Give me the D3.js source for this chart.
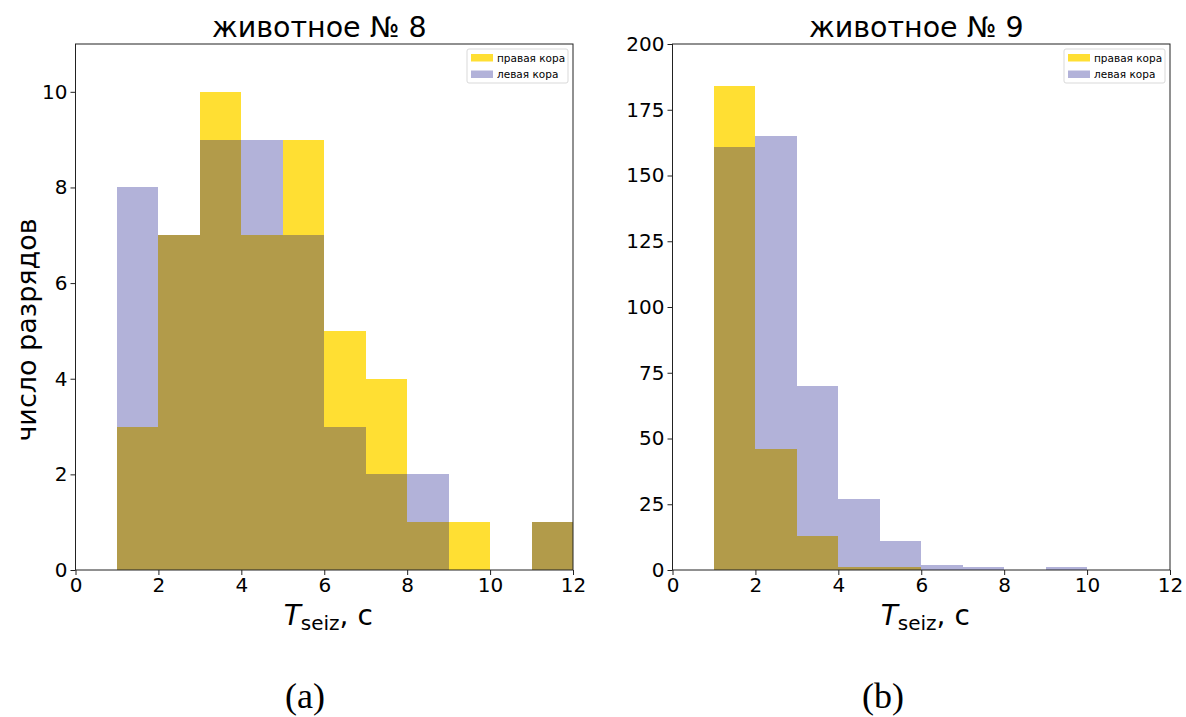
<!DOCTYPE html>
<html>
<head>
<meta charset="utf-8">
<script src="https://cdn.jsdelivr.net/npm/d3@7"></script>
<style>
  body { margin: 0; background: #fff; }
  svg { display: block; }
  .tick text { font-family: "DejaVu Sans", sans-serif; }
</style>
</head>
<body>
<svg id="chart" width="1186" height="717"></svg>
<script>
// bins of width 1, from 1 to 12
const binEdges = [1, 2, 3, 4, 5, 6, 7, 8, 9, 10, 11, 12];

// животное № 8
const animal8Right = [3, 7, 10, 7, 9, 5, 4, 1, 1, 0, 1];
const animal8Left = [8, 7, 9, 9, 7, 3, 2, 2, 0, 0, 1];

// животное № 9
const animal9Right = [184, 46, 13, 1, 1, 0, 0, 0, 0, 0, 0];
const animal9Left = [161, 165, 70, 27, 11, 2, 1, 0, 1, 0, 0];

const xTicks = [0, 2, 4, 6, 8, 10, 12];
const yTicks8 = [0, 2, 4, 6, 8, 10];
const yTicks9 = [0, 25, 50, 75, 100, 125, 150, 175, 200];

const legendLabels = ['правая кора', 'левая кора'];
const rightColor = 'gold';
const leftColor = 'navy';

const plotTop = 44;
const plotBottom = 570;

const panels = [
  { title: 'животное № 8', caption: '(a)', captionX: 305, x0: 75.5, x1: 573, yMax: 11, yTicks: yTicks8, right: animal8Right, left: animal8Left, ylabel: true },
  { title: 'животное № 9', caption: '(b)', captionX: 883, x0: 672.5, x1: 1170, yMax: 200, yTicks: yTicks9, right: animal9Right, left: animal9Left, ylabel: false }
];

const svg = d3.select('#chart');

const toBins = (counts) => counts.map((c, i) => ({ x0: binEdges[i], x1: binEdges[i + 1], count: c }));

panels.forEach((p) => {
  const x = d3.scaleLinear().domain([0, 12]).range([p.x0, p.x1]);
  const y = d3.scaleLinear().domain([0, p.yMax]).range([plotBottom, plotTop]);
  const cx = (p.x0 + p.x1) / 2;
  const g = svg.append('g');

  // bars: right cortex first, left cortex drawn over it
  const drawBars = (counts, color, opacity) => {
    g.append('g')
      .attr('shape-rendering', 'crispEdges')
      .selectAll('rect')
      .data(toBins(counts).filter((d) => d.count > 0))
      .enter()
      .append('rect')
        .attr('x', (d) => x(d.x0))
        .attr('width', (d) => x(d.x1) - x(d.x0))
        .attr('y', (d) => y(d.count))
        .attr('height', (d) => y(0) - y(d.count))
        .attr('fill', color)
        .attr('fill-opacity', opacity);
  };
  drawBars(p.right, rightColor, 0.8);
  drawBars(p.left, leftColor, 0.3);

  // axes
  const xAxis = g.append('g')
    .attr('transform', `translate(0, ${plotBottom})`)
    .call(d3.axisBottom(x).tickValues(xTicks).tickSize(5).tickPadding(3).tickSizeOuter(0));
  const yAxis = g.append('g')
    .attr('transform', `translate(${p.x0}, 0)`)
    .call(d3.axisLeft(y).tickValues(p.yTicks).tickSize(5).tickPadding(3).tickSizeOuter(0));

  [xAxis, yAxis].forEach((a) => {
    a.selectAll('text').attr('font-size', 20).attr('fill', '#000');
    a.selectAll('line').attr('stroke', '#222');
    a.select('.domain').remove();
  });

  // frame
  g.append('rect')
    .attr('x', p.x0)
    .attr('y', plotTop)
    .attr('width', p.x1 - p.x0)
    .attr('height', plotBottom - plotTop)
    .attr('fill', 'none')
    .attr('stroke', '#222')
    .attr('stroke-width', 1);

  // title
  g.append('text')
    .attr('x', cx - 5)
    .attr('y', 37)
    .attr('text-anchor', 'middle')
    .attr('font-family', 'DejaVu Sans, sans-serif')
    .attr('font-size', 28.5)
    .text(p.title);

  // x label
  const xl = g.append('text')
    .attr('x', cx + 4)
    .attr('y', 625)
    .attr('text-anchor', 'middle')
    .attr('font-family', 'DejaVu Sans, sans-serif')
    .attr('font-size', 28);
  xl.append('tspan').attr('font-style', 'italic').text('T');
  xl.append('tspan').attr('font-size', 20).attr('dy', 5).text('seiz');
  xl.append('tspan').attr('dy', -5).text(', с');

  if (p.ylabel) {
    g.append('text')
      .attr('transform', `translate(36, 330) rotate(-90)`)
      .attr('text-anchor', 'middle')
      .attr('font-family', 'DejaVu Sans, sans-serif')
      .attr('font-size', 27)
      .text('число разрядов');
  }

  // legend
  const legend = g.append('g').attr('transform', `translate(${p.x1 - 106}, 49)`);
  legend.append('rect')
    .attr('width', 101)
    .attr('height', 34)
    .attr('rx', 2)
    .attr('fill', '#fff')
    .attr('fill-opacity', 0.8)
    .attr('stroke', '#d9d9d9');
  legendLabels.forEach((label, i) => {
    legend.append('rect')
      .attr('x', 4)
      .attr('y', 5 + i * 16.5)
      .attr('width', 22)
      .attr('height', 7.5)
      .attr('fill', i === 0 ? rightColor : leftColor)
      .attr('fill-opacity', i === 0 ? 0.8 : 0.3);
    legend.append('text')
      .attr('x', 30)
      .attr('y', 12.5 + i * 16.5)
      .attr('font-family', 'DejaVu Sans, sans-serif')
      .attr('font-size', 10.5)
      .text(label);
  });

  // subfigure caption
  svg.append('text')
    .attr('x', p.captionX)
    .attr('y', 708)
    .attr('text-anchor', 'middle')
    .attr('font-family', 'Liberation Serif, DejaVu Serif, serif')
    .attr('font-size', 36)
    .text(p.caption);
});
</script>
</body>
</html>
